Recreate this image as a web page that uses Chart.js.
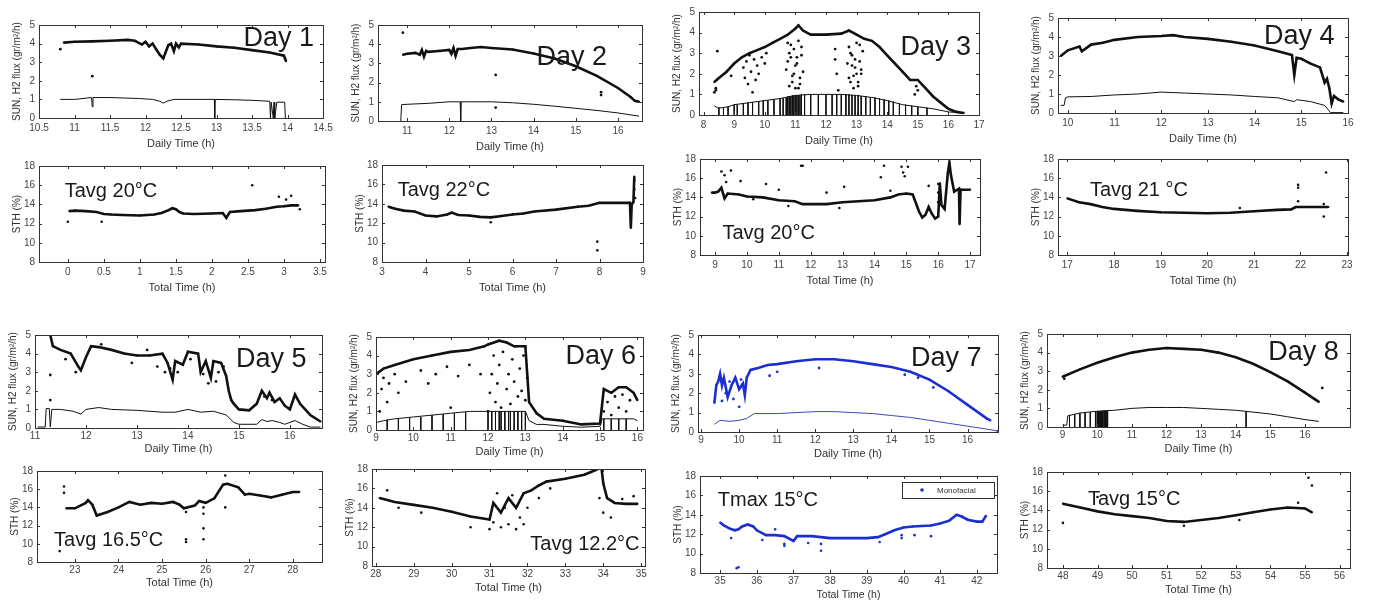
<!DOCTYPE html>
<html>
<head>
<meta charset="utf-8">
<script src="https://cdn.jsdelivr.net/npm/chart.js@4.4.1/dist/chart.umd.min.js"></script>
<style>
body { margin: 0; background: #fff; width: 1375px; height: 602px; position: relative; overflow: hidden; }
.p { position: absolute; }
</style>
</head>
<body>
<script>
// ---- Day 1 ----
const d1Time = [10.85, 11.0, 11.25, 11.5, 11.75, 11.85, 11.95, 12.0, 12.05, 12.1, 12.15, 12.2, 12.25, 12.28, 12.32, 12.36, 12.4, 12.43, 12.47, 12.5, 12.75, 13.0, 13.25, 13.5, 13.75, 13.95, 13.98]
const d1Sun = [4.05, 4.1, 4.12, 4.15, 4.2, 4.15, 3.95, 4.1, 3.85, 4.0, 3.7, 3.4, 3.2, 3.5, 3.9, 4.0, 3.6, 4.0, 3.8, 4.0, 3.95, 3.85, 3.78, 3.65, 3.52, 3.35, 3.05]
const d1OutT = [10.8, 11.25]
const d1OutV = [3.7, 2.25]
const d1H2T = [10.8, 11.0, 11.24, 11.25, 11.26, 11.5, 11.9, 12.1, 12.2, 12.25, 12.3, 12.4, 12.5, 12.97, 12.975, 12.98, 13.25, 13.5, 13.75, 13.76, 13.77, 13.8, 13.81, 13.82, 13.85, 13.96, 13.97, 13.98]
const d1H2 = [1.0, 1.0, 1.1, 0.6, 1.1, 1.1, 1.05, 1.0, 0.9, 0.8, 0.9, 1.0, 1.0, 1.0, 0.0, 1.0, 0.98, 0.95, 0.9, 0.0, 0.85, 0.0, 0.85, 0.0, 0.85, 0.85, 0.0, 0.0]
const d1StT = [0.02, 0.1, 0.25, 0.4, 0.5, 0.6, 0.75, 1.0, 1.2, 1.3, 1.4, 1.45, 1.5, 1.55, 1.6, 1.75, 2.0, 2.15, 2.2, 2.25, 2.4, 2.6, 2.75, 2.9, 3.0, 3.1, 3.2]
const d1Sth = [13.3, 13.35, 13.3, 13.2, 13.0, 12.95, 12.9, 12.85, 12.95, 13.1, 13.4, 13.6, 13.5, 13.2, 13.05, 13.0, 13.05, 13.1, 12.6, 13.2, 13.3, 13.4, 13.55, 13.75, 13.8, 13.9, 13.9]
const d1StOutT = [0.0, 0.47, 2.56, 2.93, 3.03, 3.1, 3.22]
const d1StOutV = [12.2, 12.2, 16.0, 14.8, 14.5, 14.9, 13.5]

// ---- Day 2 ----
const d2Time = [10.9, 11.0, 11.2, 11.3, 11.35, 11.4, 11.45, 11.5, 11.75, 12.0, 12.05, 12.1, 12.15, 12.2, 12.3, 12.5, 12.75, 13.0, 13.5, 14.0, 14.5, 15.0, 15.5, 16.0, 16.3, 16.4, 16.5]
const d2Sun = [3.45, 3.5, 3.55, 3.45, 3.7, 3.35, 3.65, 3.6, 3.65, 3.7, 3.5, 3.8, 3.4, 3.75, 3.75, 3.8, 3.85, 3.8, 3.72, 3.52, 3.25, 2.85, 2.35, 1.72, 1.25, 1.05, 1.0]
const d2OutT = [10.9, 13.1, 15.6, 15.6, 13.1]
const d2OutV = [4.6, 2.4, 1.5, 1.35, 0.7]
const d2H2T = [10.85, 10.87, 11.0, 11.5, 12.0, 12.26, 12.27, 12.28, 12.5, 13.0, 13.5, 14.0, 14.5, 15.0, 15.5, 16.0, 16.5]
const d2H2 = [0, 0.85, 0.87, 0.92, 1.0, 1.0, 0, 1.0, 1.0, 1.0, 0.95, 0.87, 0.77, 0.66, 0.55, 0.42, 0.25]
const d2StT = [3.15, 3.3, 3.5, 3.75, 4.0, 4.25, 4.5, 4.6, 4.75, 5.0, 5.25, 5.5, 5.75, 6.0, 6.25, 6.5, 7.0, 7.5, 7.75, 8.0, 8.5, 8.7, 8.72, 8.74, 8.78, 8.8]
const d2Sth = [13.7, 13.5, 13.3, 13.2, 12.8, 12.7, 12.9, 13.1, 12.85, 12.8, 12.65, 12.6, 12.75, 12.9, 13.0, 13.2, 13.4, 13.7, 13.8, 14.1, 14.1, 14.1, 11.5, 13.9, 14.2, 16.8]
const d2StOutT = [5.5, 7.95, 7.95, 8.8, 8.8, 8.82]
const d2StOutV = [12.1, 10.1, 9.2, 16.4, 15.5, 14.6]

// ---- Day 3 ----
const d3Time = [8.35, 8.5, 8.75, 9.0, 9.25, 9.5, 9.75, 10.0, 10.25, 10.5, 10.75, 11.0, 11.1, 11.25, 11.5, 12.0, 12.5, 12.75, 13.0, 13.25, 13.5, 13.75, 14.0, 14.25, 14.5, 14.75, 15.0, 15.25, 15.5, 15.75, 16.0, 16.25, 16.5]
const d3Sun = [1.6, 1.8, 2.1, 2.5, 2.8, 3.0, 3.15, 3.3, 3.5, 3.7, 3.9, 4.2, 4.35, 4.1, 3.9, 3.9, 3.95, 4.1, 3.9, 3.7, 3.6, 3.3, 2.9, 2.5, 2.1, 1.7, 1.7, 1.3, 0.9, 0.6, 0.3, 0.15, 0.1]
const d3OutT = [8.35, 8.4, 8.45, 8.9, 9.3, 9.35, 9.4, 9.45, 9.5, 9.55, 9.6, 9.65, 9.7, 9.75, 9.8, 9.9, 10.0, 10.05, 10.7, 10.75, 10.8, 10.85, 10.9, 10.95, 11.0, 11.05, 11.1, 11.15, 11.2, 11.25, 10.8, 10.9, 11.0, 11.1, 11.2, 10.75, 10.85, 10.95, 11.05, 11.15, 12.3, 12.3, 12.35, 12.4, 12.7, 12.75, 12.8, 12.85, 12.9, 12.95, 13.0, 13.05, 13.1, 13.15, 13.2, 12.75, 12.85, 12.95, 13.05, 13.15, 12.8, 12.9, 13.0, 13.1, 14.9, 14.95, 15.0, 8.4]
const d3OutV = [1.1, 1.3, 3.1, 1.9, 2.3, 1.8, 2.6, 1.5, 2.9, 2.1, 1.1, 2.7, 1.7, 2.4, 2.0, 2.8, 2.5, 3.0, 2.2, 3.5, 1.4, 2.8, 1.9, 3.2, 1.3, 2.5, 3.6, 1.8, 2.9, 2.1, 3.0, 1.6, 2.4, 1.3, 3.3, 2.6, 3.4, 2.0, 2.8, 1.5, 3.2, 2.7, 2.0, 1.2, 2.5, 3.3, 1.6, 2.9, 1.9, 2.3, 3.5, 1.4, 2.6, 2.0, 3.1, 1.8, 2.4, 2.7, 1.6, 2.2, 3.0, 1.3, 2.0, 3.4, 1.0, 1.4, 1.2, 1.2]
const d3H2T = [8.35, 8.45, 8.6, 8.8, 9.0, 9.5, 10.0, 10.5, 11.0, 11.5, 12.0, 12.5, 13.0, 13.5, 14.0, 14.5, 15.0, 15.5, 16.0, 16.5]
const d3H2 = [0.45, 0.35, 0.35, 0.4, 0.5, 0.6, 0.7, 0.8, 0.95, 1.0, 1.0, 1.0, 0.95, 0.85, 0.7, 0.5, 0.4, 0.3, 0.15, 0.1]
const d3DipT = [8.5, 8.65, 8.8, 9.0, 9.1, 9.3, 9.45, 9.6, 9.8, 9.95, 10.1, 10.3, 10.5, 10.6, 10.7, 10.75, 10.8, 10.85, 10.9, 10.95, 11.0, 11.05, 11.1, 11.15, 11.2, 11.3, 11.5, 11.75, 12.0, 12.2, 12.35, 12.5, 12.65, 12.75, 12.85, 12.95, 13.05, 13.15, 13.3, 13.45, 13.6, 13.75, 13.9, 14.05, 14.2, 14.4, 14.6, 14.8, 15.0, 15.3]
const d3DipTop = [0.35, 0.35, 0.4, 0.5, 0.5, 0.55, 0.6, 0.6, 0.65, 0.7, 0.7, 0.75, 0.8, 0.82, 0.85, 0.9, 0.9, 0.9, 0.95, 0.95, 0.95, 0.95, 0.97, 0.97, 1.0, 1.0, 1.0, 1.0, 1.0, 1.0, 1.0, 1.0, 1.0, 1.0, 0.97, 0.95, 0.95, 0.92, 0.9, 0.87, 0.85, 0.8, 0.75, 0.7, 0.65, 0.55, 0.5, 0.45, 0.4, 0.35]
const d3StT = [8.9, 9.0, 9.1, 9.2, 9.3, 9.4, 9.75, 10.0, 10.5, 11.0, 11.5, 11.75, 12.0, 12.5, 13.0, 13.5, 14.0, 14.5, 14.75, 15.0, 15.2, 15.4, 15.5, 15.6, 15.7, 15.8, 15.9, 16.0, 16.05, 16.1, 16.2, 16.3, 16.35, 16.4, 16.5, 16.65, 16.67, 16.7, 17.0]
const d3Sth = [14.5, 14.5, 14.6, 15.0, 13.9, 14.4, 14.3, 14.1, 14.0, 13.7, 13.6, 13.3, 13.3, 13.3, 13.5, 13.6, 13.7, 14.0, 14.3, 14.4, 14.3, 12.5, 11.9, 12.2, 13.0, 12.3, 11.8, 12.0, 15.5, 13.2, 12.8, 16.5, 17.6, 16.3, 14.6, 14.9, 11.2, 14.8, 14.8]
const d3StOutT = [9.2, 9.3, 9.35, 9.5, 9.8, 10.6, 11.0, 11.7, 11.75, 12.5, 13.05, 14.2, 14.3, 14.85, 14.9, 14.95, 15.05, 15.7, 16.0, 16.0, 16.0, 11.3, 12.9, 14.5, 10.2]
const d3StOutV = [16.7, 16.3, 15.6, 16.8, 15.7, 15.4, 14.8, 17.3, 17.3, 14.5, 15.1, 16.1, 17.3, 17.2, 16.6, 16.2, 17.2, 15.2, 14.5, 15.4, 13.5, 13.1, 12.9, 14.7, 13.8]

// ---- Day 4 ----
const d4Time = [9.85, 10.0, 10.25, 10.3, 10.5, 10.75, 11.0, 11.5, 12.0, 12.25, 12.5, 13.0, 13.5, 14.0, 14.5, 14.8, 14.85, 14.9, 15.0, 15.2, 15.4, 15.5, 15.55, 15.6, 15.65, 15.7, 15.8, 15.9]
const d4Sun = [3.0, 3.3, 3.5, 3.25, 3.6, 3.7, 3.85, 4.0, 4.05, 4.1, 4.0, 3.9, 3.75, 3.55, 3.25, 3.05, 2.0, 2.9, 2.85, 2.6, 2.4, 1.6, 1.8, 1.3, 0.5, 0.9, 0.7, 0.6]
const d4H2T = [9.85, 9.92, 9.95, 10.0, 10.5, 11.0, 11.5, 12.0, 12.5, 13.0, 13.5, 14.0, 14.5, 14.85, 14.9, 15.2, 15.5, 15.6, 15.62, 15.9]
const d4H2 = [0.4, 0.4, 0.8, 0.85, 0.87, 0.95, 1.0, 1.1, 1.05, 1.0, 0.95, 0.87, 0.8, 0.6, 0.7, 0.6, 0.4, 0.1, 0.02, 0.02]
const d4StT = [17.0, 17.25, 17.5, 17.75, 18.0, 18.5, 19.0, 19.5, 20.0, 20.5, 21.0, 21.5, 21.8, 21.9, 22.0, 22.3, 22.6]
const d4Sth = [13.9, 13.5, 13.3, 13.0, 12.8, 12.6, 12.45, 12.4, 12.35, 12.4, 12.55, 12.7, 12.75, 13.0, 13.0, 13.0, 13.0]
const d4StOutT = [21.95, 21.95, 21.95, 22.5, 22.55, 22.5, 20.7]
const d4StOutV = [15.3, 15.0, 13.6, 12.0, 16.6, 13.3, 12.9]

// ---- Day 5 ----
const d5Time = [11.3, 11.35, 11.5, 11.7, 11.85, 11.9, 12.0, 12.1, 12.25, 12.5, 12.75, 13.0, 13.25, 13.5, 13.6, 13.7, 13.75, 13.9, 14.0, 14.2, 14.25, 14.35, 14.45, 14.5, 14.65, 14.75, 14.8, 14.85, 14.9, 15.0, 15.2, 15.35, 15.45, 15.55, 15.6, 15.7, 15.8, 15.9, 16.0, 16.1, 16.2, 16.4, 16.6]
const d5Sun = [5.0, 4.4, 4.2, 4.0, 3.3, 3.1, 3.8, 4.4, 4.35, 4.2, 4.0, 3.9, 3.9, 4.0, 3.5, 2.6, 3.6, 3.4, 4.1, 4.0, 3.0, 3.6, 2.7, 3.6, 3.5, 2.8, 2.0, 1.5, 1.3, 1.0, 0.95, 1.3, 2.0, 1.6, 1.9, 1.4, 1.6, 1.2, 1.0, 1.8, 1.3, 0.7, 0.35]
const d5OutT = [11.3, 11.3, 11.6, 11.8, 12.3, 12.9, 13.2, 13.4, 13.55, 13.65, 13.8, 14.05, 14.3, 14.4, 14.55, 14.6, 14.7, 15.5, 15.65]
const d5OutV = [2.85, 1.5, 3.7, 3.0, 4.5, 3.5, 4.2, 3.3, 3.0, 3.2, 3.0, 3.7, 2.9, 2.4, 2.5, 3.0, 3.3, 1.7, 1.5]
const d5H2T = [11.05, 11.2, 11.22, 11.28, 11.3, 11.33, 11.5, 11.75, 11.9, 12.0, 12.25, 12.5, 13.0, 13.5, 13.75, 14.0, 14.25, 14.5, 14.75, 14.9, 15.0, 15.35, 15.45, 15.55, 15.65, 15.8, 15.9, 16.1, 16.25, 16.4, 16.6]
const d5H2 = [0.05, 0.05, 1.05, 1.05, 0.05, 1.0, 1.0, 0.9, 0.75, 1.0, 1.1, 1.0, 0.95, 0.85, 0.85, 1.0, 0.85, 0.9, 0.7, 0.3, 0.2, 0.2, 0.45, 0.35, 0.4, 0.3, 0.2, 0.4, 0.2, 0.05, 0.05]
const d5StT = [22.8, 23.0, 23.25, 23.3, 23.4, 23.5, 23.75, 24.0, 24.25, 24.5, 24.75, 25.0, 25.25, 25.4, 25.5, 25.75, 25.85, 26.0, 26.2, 26.4, 26.5, 26.75, 26.9, 27.0, 27.25, 27.5, 27.75, 28.0, 28.15]
const d5Sth = [13.9, 13.9, 14.5, 14.8, 14.3, 13.1, 13.5, 14.0, 14.6, 14.3, 14.5, 14.4, 14.6, 14.3, 13.9, 14.2, 14.7, 14.5, 15.0, 16.5, 16.6, 16.2, 15.4, 15.5, 15.3, 15.1, 15.4, 15.7, 15.7]
const d5StOutT = [22.65, 22.75, 22.75, 25.55, 25.55, 25.55, 25.95, 25.95, 25.95, 25.95, 26.45, 26.45]
const d5StOutV = [9.2, 16.3, 15.6, 10.2, 10.5, 13.5, 10.5, 11.7, 13.3, 14.0, 14.0, 17.5]

// ---- Day 6 ----
const d6Time = [9.0, 9.2, 9.5, 10.0, 10.5, 11.0, 11.5, 11.9, 12.0, 12.3, 12.5, 12.7, 13.0, 13.1, 13.3, 13.5, 14.0, 14.5, 15.0, 15.1, 15.3, 15.5, 15.7, 15.9, 16.0]
const d6Sun = [3.0, 3.3, 3.5, 3.8, 4.0, 4.2, 4.3, 4.5, 4.6, 4.8, 4.7, 4.5, 4.5, 1.5, 0.9, 0.6, 0.5, 0.3, 0.35, 2.2, 2.0, 2.3, 2.3, 2.0, 1.6]
const d6OutT = [9.1, 9.15, 9.2, 9.3, 9.35, 9.5, 9.6, 9.8, 10.2, 10.4, 10.6, 10.9, 11.0, 11.2, 11.5, 11.8, 12.0, 12.05, 12.1, 12.15, 12.2, 12.25, 12.3, 12.35, 12.4, 12.5, 12.55, 12.6, 12.65, 12.7, 12.75, 12.8, 12.85, 12.9, 12.95, 13.0, 13.05, 15.1, 15.2, 15.3, 15.4, 15.5, 15.6, 15.7, 15.8]
const d6OutV = [1.0, 2.2, 2.8, 1.5, 2.5, 3.0, 2.0, 2.6, 3.2, 2.5, 3.0, 3.4, 1.2, 2.9, 3.5, 3.0, 1.0, 2.0, 3.0, 4.0, 1.5, 2.5, 3.5, 1.2, 4.2, 2.2, 3.0, 1.4, 3.8, 2.6, 4.5, 1.8, 3.3, 2.1, 4.0, 1.6, 2.8, 1.0, 1.5, 0.8, 1.8, 1.2, 1.9, 1.0, 1.6]
const d6H2T = [9.0, 9.2, 9.5, 10.0, 10.5, 11.0, 11.5, 12.0, 12.5, 13.0, 13.1, 13.3, 13.5, 14.0, 14.5, 15.0, 15.05, 15.5, 15.9, 16.0]
const d6H2 = [0.4, 0.5, 0.6, 0.7, 0.8, 0.9, 1.0, 1.0, 1.0, 1.0, 0.5, 0.3, 0.3, 0.2, 0.15, 0.2, 0.6, 0.6, 0.6, 0.5]
const d6DipT = [9.3, 9.6, 9.9, 10.2, 10.5, 10.8, 11.1, 11.4, 12.0, 12.1, 12.2, 12.3, 12.35, 12.45, 12.55, 12.6, 12.7, 12.8, 12.9, 13.0, 15.1, 15.3, 15.5, 15.7]
const d6DipTop = [0.55, 0.6, 0.65, 0.7, 0.8, 0.85, 0.9, 0.95, 1.0, 1.0, 1.0, 1.0, 1.0, 1.0, 1.0, 1.0, 1.0, 1.0, 1.0, 1.0, 0.6, 0.6, 0.6, 0.6]
const d6StT = [28.1, 28.5, 29.0, 29.5, 30.0, 30.5, 31.0, 31.1, 31.3, 31.5, 31.7, 31.9, 32.1, 32.3, 32.5, 33.0, 33.5, 33.8, 33.95, 34.0, 34.1, 34.3, 34.6, 34.9]
const d6Sth = [15.0, 14.6, 14.3, 14.0, 13.6, 13.1, 12.8, 14.5, 13.5, 15.0, 14.0, 15.5, 15.8, 16.3, 16.7, 17.0, 17.4, 17.9, 18.2, 16.5, 15.0, 14.5, 14.4, 14.4]
const d6StOutT = [28.3, 28.6, 29.2, 30.5, 31.0, 31.1, 31.2, 31.3, 31.4, 31.5, 31.6, 31.7, 31.8, 31.9, 32.0, 32.3, 32.6, 33.9, 34.0, 34.2, 34.5, 34.8]
const d6StOutV = [15.8, 14.0, 13.5, 12.0, 11.8, 12.5, 15.5, 12.0, 14.0, 12.3, 15.3, 11.8, 13.0, 12.3, 14.0, 15.0, 16.0, 15.0, 13.5, 13.0, 14.9, 15.2]

// ---- Day 7 ----
const d7Time = [9.35, 9.4, 9.45, 9.5, 9.55, 9.6, 9.7, 9.8, 9.9, 10.0, 10.1, 10.15, 10.2, 10.3, 10.5, 10.75, 11.0, 11.5, 12.0, 12.5, 13.0, 13.5, 14.0, 14.5, 15.0, 15.5, 16.0, 16.5, 16.6]
const d7Sun = [1.5, 2.4, 2.6, 3.0, 2.4, 2.8, 1.8, 2.4, 2.8, 2.2, 2.5, 1.9, 2.8, 3.2, 3.3, 3.45, 3.5, 3.65, 3.75, 3.75, 3.65, 3.5, 3.35, 3.1, 2.7, 2.1, 1.4, 0.7, 0.6]
const d7OutT = [9.55, 9.65, 9.75, 9.85, 10.0, 10.05, 10.8, 11.0, 12.1, 14.35, 14.7, 15.1, 16.8]
const d7OutV = [1.6, 2.0, 2.6, 1.7, 1.3, 2.7, 2.9, 3.1, 3.3, 2.95, 2.8, 2.3, 0.05]
const d7H2T = [9.35, 9.5, 9.75, 10.0, 10.2, 10.4, 11.0, 11.5, 12.0, 12.5, 13.0, 13.5, 14.0, 14.5, 15.0, 15.5, 16.0, 16.5, 16.8]
const d7H2 = [0.4, 0.6, 0.55, 0.6, 0.7, 0.95, 0.95, 1.0, 1.05, 1.05, 1.0, 0.95, 0.85, 0.75, 0.6, 0.45, 0.3, 0.15, 0.05]
const d7StT = [35.0, 35.1, 35.25, 35.4, 35.5, 35.6, 35.75, 35.9, 36.0, 36.25, 36.5, 36.75, 37.0, 37.1, 37.5, 38.0, 38.5, 39.0, 39.3, 39.5, 39.75, 40.0, 40.25, 40.5, 40.75, 41.0, 41.25, 41.45, 41.6, 41.75, 42.0, 42.15, 42.25]
const d7Sth = [13.2, 12.9, 12.6, 12.4, 12.5, 12.8, 13.0, 12.8, 12.4, 11.9, 11.9, 11.8, 11.3, 11.8, 11.8, 11.6, 11.6, 11.6, 11.7, 12.0, 12.4, 12.7, 12.8, 12.85, 12.9, 13.1, 13.4, 14.0, 13.8, 13.5, 13.3, 13.3, 13.9]
const d7StOutT = [35.3, 35.45, 35.5, 36.15, 36.5, 36.75, 36.75, 37.4, 37.75, 37.75, 39.35, 39.95, 39.95, 40.3, 40.75]
const d7StOutV = [11.6, 8.5, 8.6, 11.4, 12.5, 10.8, 11.0, 11.1, 10.3, 11.0, 11.2, 11.9, 11.6, 11.9, 11.8]

// ---- Day 8 ----
const d8Time = [9.0, 9.5, 10.0, 10.5, 11.0, 11.5, 12.0, 12.5, 13.0, 13.5, 14.0, 14.5, 15.0, 15.5, 16.0, 16.4]
const d8Sun = [2.7, 3.1, 3.45, 3.75, 4.0, 4.15, 4.25, 4.2, 4.15, 4.0, 3.75, 3.4, 2.95, 2.45, 1.85, 1.35]
const d8OutT = [16.5, 9.05]
const d8OutV = [2.1, 2.6]
const d8H2T = [9.0, 9.12, 9.15, 9.5, 10.0, 10.5, 11.0, 11.5, 12.0, 12.5, 13.0, 13.5, 14.0, 14.5, 15.0, 15.5, 16.0, 16.4]
const d8H2 = [0.1, 0.1, 0.6, 0.75, 0.85, 0.9, 1.0, 1.05, 1.05, 1.05, 1.0, 0.95, 0.9, 0.8, 0.7, 0.55, 0.4, 0.3]
const d8DipT = [9.2, 9.35, 9.5, 9.65, 9.8, 9.95, 10.0, 10.03, 10.06, 10.1, 10.13, 10.16, 10.2, 10.23, 10.26, 10.3, 14.3]
const d8DipTop = [0.65, 0.7, 0.75, 0.78, 0.8, 0.85, 0.85, 0.85, 0.85, 0.85, 0.85, 0.87, 0.87, 0.87, 0.87, 0.88, 0.85]
const d8StT = [48.0, 48.5, 49.0, 49.5, 50.0, 50.5, 51.0, 51.5, 52.0, 52.5, 53.0, 53.5, 54.0, 54.5, 55.0, 55.2]
const d8Sth = [14.7, 14.3, 13.9, 13.6, 13.4, 13.2, 12.9, 12.8, 13.0, 13.2, 13.5, 13.8, 14.1, 14.3, 14.2, 13.8]
const d8StOutT = [49.0, 53.1, 54.8, 55.1, 55.2, 48.0, 51.5]
const d8StOutV = [15.4, 13.0, 14.8, 17.4, 16.6, 12.7, 12.4]

// tick labels
const fluxTicks = [0, 1, 2, 3, 4, 5]
const sthTicks = [8, 10, 12, 14, 16, 18]

const FONT = '"Liberation Sans", Arial, sans-serif'
const BLACK = '#111'
const BLUE = '#1b2fcf'
const BLUE2 = '#3a49bb'
const SUN_TITLE = 'SUN, H2 flux (gr/m²/h)'
const STH_TITLE = 'STH (%)'
const AX_W = 28, PAD_T = 8, PAD_R = 14

Chart.defaults.font.family = FONT
Chart.defaults.animation = false

const pts = (xs, ys) => xs.map((x, i) => ({ x, y: ys[i] }))
const dipPts = (xs, tops) => {
  const out = []
  xs.forEach((x, i) => out.push({ x, y: tops[i] }, { x, y: 0 }, { x, y: null }))
  return out
}
const line = (data, color, w, r) => ({
  data, showLine: true, borderColor: color, backgroundColor: color, borderWidth: w,
  pointRadius: r, pointBorderWidth: 0, pointBackgroundColor: color, tension: 0, spanGaps: false
})
const dots = (data, color, r) => ({
  data, showLine: false, pointRadius: r, pointBorderWidth: 0, pointBackgroundColor: color, backgroundColor: color
})
const range = (a, b, s) => { const r = []; for (let v = a; v <= b + 1e-9; v += s) r.push(Math.round(v * 10) / 10); return r }

const framePlugin = {
  id: 'frame',
  afterDraw(chart, args, o) {
    const { ctx, chartArea: a, scales: { x, y } } = chart
    ctx.save()
    ctx.strokeStyle = '#333'
    ctx.lineWidth = 1
    ctx.strokeRect(Math.round(a.left) + 0.5, Math.round(a.top) + 0.5, Math.round(a.width), Math.round(a.height))
    ctx.beginPath()
    x.ticks.forEach(t => {
      const px = Math.round(x.getPixelForValue(t.value)) + 0.5
      ctx.moveTo(px, a.bottom); ctx.lineTo(px, a.bottom - 3)
      ctx.moveTo(px, a.top); ctx.lineTo(px, a.top + 3)
    })
    y.ticks.forEach(t => {
      const py = Math.round(y.getPixelForValue(t.value)) + 0.5
      ctx.moveTo(a.left, py); ctx.lineTo(a.left + 3, py)
      ctx.moveTo(a.right, py); ctx.lineTo(a.right - 3, py)
    })
    ctx.stroke()
    if (o.text) {
      ctx.font = `${o.size}px ${FONT}`
      ctx.fillStyle = '#1a1a1a'
      ctx.textBaseline = 'alphabetic'
      ctx.fillText(o.text, a.left + o.fx * a.width, a.top + o.fy * a.height)
    }
    if (o.legend) {
      const lw = 92, lh = 16
      const lx = a.right - 3 - lw, ly = a.top + 6
      ctx.fillStyle = '#fff'
      ctx.fillRect(lx, ly, lw, lh)
      ctx.strokeStyle = '#333'
      ctx.strokeRect(lx + 0.5, ly + 0.5, lw, lh)
      ctx.fillStyle = o.legend.color
      ctx.beginPath(); ctx.arc(lx + 20, ly + lh / 2, 1.8, 0, Math.PI * 2); ctx.fill()
      ctx.fillStyle = '#333'
      ctx.font = `8px ${FONT}`
      ctx.textBaseline = 'middle'
      ctx.fillText(o.legend.text, lx + 35, ly + lh / 2 + 0.5)
    }
    ctx.restore()
  }
}

function panel(p) {
  const [l, t, w, h] = p.box
  const axH = p.axH || 34
  const wrap = document.createElement('div')
  wrap.className = 'p'
  wrap.style.left = (l - AX_W) + 'px'
  wrap.style.top = (t - PAD_T) + 'px'
  wrap.style.width = (w + AX_W + PAD_R) + 'px'
  wrap.style.height = (h + PAD_T + axH) + 'px'
  const cv = document.createElement('canvas')
  wrap.appendChild(cv)
  document.body.appendChild(wrap)
  const tickStyle = { font: { size: 10 }, color: '#444', autoSkip: false, maxRotation: 0, callback: v => String(v) }
  new Chart(cv, {
    type: 'scatter',
    data: { datasets: p.sets },
    options: {
      responsive: true,
      maintainAspectRatio: false,
      layout: { padding: { top: PAD_T, right: PAD_R, left: 0, bottom: 0 } },
      plugins: { legend: { display: false }, tooltip: { enabled: false }, frame: p.note },
      scales: {
        x: {
          type: 'linear', min: p.x[0], max: p.x[1],
          afterBuildTicks: s => { s.ticks = p.xt.map(v => ({ value: v })) },
          afterFit: s => { s.height = axH },
          grid: { display: false, drawTicks: false }, border: { display: false },
          ticks: { ...tickStyle, padding: axH < 32 ? 2 : 4 },
          title: { display: true, text: p.xTitle, font: { size: axH < 29 ? 10.5 : 11 }, color: '#333', padding: { top: 0, bottom: axH < 29 ? 0 : 1 } }
        },
        y: {
          type: 'linear', min: p.y[0], max: p.y[1],
          afterBuildTicks: s => { s.ticks = p.yt.map(v => ({ value: v })) },
          afterFit: s => { s.width = AX_W },
          grid: { display: false, drawTicks: false }, border: { display: false },
          ticks: { ...tickStyle, padding: 4 },
          title: { display: true, text: p.yTitle, font: { size: 10 }, color: '#333', padding: { top: 0, bottom: 0 } }
        }
      }
    },
    plugins: [framePlugin]
  })
}

const fluxSets = (tm, sun, outT, outV, h2t, h2, dipT, dipTop, c1, c2) => {
  const s = [
    line(pts(h2t, h2), c2, 1, 0),
    line(pts(tm, sun), c1, 2.6, 1.1),
    dots(pts(outT, outV), c1, 1.4)
  ]
  if (dipT) s.push(line(dipPts(dipT, dipTop), c2, 1, 0))
  return s
}
const sthSets = (tm, v, outT, outV, c) => [line(pts(tm, v), c, 2.6, 1.1), dots(pts(outT, outV), c, 1.3)]

const dayNote = (n, fx, fy) => ({ text: 'Day ' + n, fx, fy, size: 27 })
const tNote = (text, fx, fy) => ({ text, fx, fy, size: 20 })

const panels = [
  { box: [39, 23, 284, 95], x: [10.5, 14.5], xt: range(10.5, 14.5, 0.5), y: [0, 5], yt: fluxTicks, xTitle: 'Daily Time (h)', yTitle: SUN_TITLE,
    sets: fluxSets(d1Time, d1Sun, d1OutT, d1OutV, d1H2T, d1H2, null, null, BLACK, BLACK), note: dayNote(1, 0.72, 0.23) },
  { box: [39, 164, 286, 98], x: [-0.4, 3.57], xt: range(0, 3.5, 0.5), y: [8, 18], yt: sthTicks, xTitle: 'Total Time (h)', yTitle: STH_TITLE,
    sets: sthSets(d1StT, d1Sth, d1StOutT, d1StOutV, BLACK), note: tNote('Tavg 20°C', 0.09, 0.32) },
  { box: [378, 23, 264, 98], x: [10.31, 16.57], xt: range(11, 16, 1), y: [0, 5], yt: fluxTicks, xTitle: 'Daily Time (h)', yTitle: SUN_TITLE,
    sets: fluxSets(d2Time, d2Sun, d2OutT, d2OutV, d2H2T, d2H2, null, null, BLACK, BLACK), note: dayNote(2, 0.6, 0.42) },
  { box: [382, 163, 261, 99], x: [3, 9], xt: range(3, 9, 1), y: [8, 18], yt: sthTicks, xTitle: 'Total Time (h)', yTitle: STH_TITLE,
    sets: sthSets(d2StT, d2Sth, d2StOutT, d2StOutV, BLACK), note: tNote('Tavg 22°C', 0.06, 0.32) },
  { box: [699, 10, 280, 105], x: [7.85, 17], xt: range(8, 17, 1), y: [0, 5], yt: fluxTicks, xTitle: 'Daily Time (h)', yTitle: SUN_TITLE,
    sets: fluxSets(d3Time, d3Sun, d3OutT, d3OutV, d3H2T, d3H2, d3DipT, d3DipTop, BLACK, BLACK), note: dayNote(3, 0.72, 0.42) },
  { box: [700, 157, 280, 98], x: [8.53, 17.31], xt: range(9, 17, 1), y: [8, 18], yt: sthTicks, xTitle: 'Total Time (h)', yTitle: STH_TITLE,
    sets: sthSets(d3StT, d3Sth, d3StOutT, d3StOutV, BLACK), note: tNote('Tavg 20°C', 0.08, 0.83) },
  { box: [1058, 16, 290, 97], x: [9.79, 16], xt: range(10, 16, 1), y: [0, 5], yt: fluxTicks, xTitle: 'Daily Time (h)', yTitle: SUN_TITLE,
    sets: fluxSets(d4Time, d4Sun, [], [], d4H2T, d4H2, null, null, BLACK, BLACK), note: dayNote(4, 0.71, 0.27) },
  { box: [1058, 157, 290, 98], x: [16.8, 23.02], xt: range(17, 23, 1), y: [8, 18], yt: sthTicks, xTitle: 'Total Time (h)', yTitle: STH_TITLE,
    sets: sthSets(d4StT, d4Sth, d4StOutT, d4StOutV, BLACK), note: tNote('Tavg 21 °C', 0.11, 0.39) },
  { box: [35, 333, 287, 95], x: [11, 16.63], xt: range(11, 16, 1), y: [0, 5], yt: fluxTicks, xTitle: 'Daily Time (h)', yTitle: SUN_TITLE, axH: 29,
    sets: fluxSets(d5Time, d5Sun, d5OutT, d5OutV, d5H2T, d5H2, null, null, BLACK, BLACK), note: dayNote(5, 0.7, 0.34) },
  { box: [37, 469, 285, 93], x: [22.13, 28.67], xt: range(23, 28, 1), y: [8, 18], yt: sthTicks, xTitle: 'Total Time (h)', yTitle: STH_TITLE, axH: 29,
    sets: sthSets(d5StT, d5Sth, d5StOutT, d5StOutV, BLACK), note: tNote('Tavg 16.5°C', 0.06, 0.82) },
  { box: [376, 335, 267, 95], x: [9, 16.15], xt: range(9, 16, 1), y: [0, 5], yt: fluxTicks, xTitle: 'Daily Time (h)', yTitle: SUN_TITLE, axH: 30,
    sets: fluxSets(d6Time, d6Sun, d6OutT, d6OutV, d6H2T, d6H2, d6DipT, d6DipTop, BLACK, BLACK), note: dayNote(6, 0.71, 0.29) },
  { box: [372, 467, 273, 99], x: [27.9, 35.1], xt: range(28, 35, 1), y: [8, 18], yt: sthTicks, xTitle: 'Total Time (h)', yTitle: STH_TITLE, axH: 30,
    sets: sthSets(d6StT, d6Sth, d6StOutT, d6StOutV, BLACK), note: tNote('Tavg 12.2°C', 0.58, 0.83) },
  { box: [698, 333, 300, 99], x: [8.92, 16.8], xt: range(9, 16, 1), y: [0, 5], yt: fluxTicks, xTitle: 'Daily Time (h)', yTitle: SUN_TITLE, axH: 30,
    sets: fluxSets(d7Time, d7Sun, d7OutT, d7OutV, d7H2T, d7H2, null, null, BLUE, BLUE2), note: dayNote(7, 0.71, 0.32) },
  { box: [700, 474, 297, 99], x: [34.45, 42.55], xt: range(35, 42, 1), y: [8, 18], yt: sthTicks, xTitle: 'Total Time (h)', yTitle: STH_TITLE, axH: 28,
    sets: sthSets(d7StT, d7Sth, d7StOutT, d7StOutV, BLUE), note: { ...tNote('Tmax 15°C', 0.06, 0.31), legend: { text: 'Monofacial', color: BLUE } } },
  { box: [1047, 332, 303, 95], x: [8.55, 17.3], xt: range(9, 16, 1), y: [0, 5], yt: fluxTicks, xTitle: 'Daily Time (h)', yTitle: SUN_TITLE, axH: 30,
    sets: fluxSets(d8Time, d8Sun, d8OutT, d8OutV, d8H2T, d8H2, d8DipT, d8DipTop, BLACK, BLACK), note: dayNote(8, 0.73, 0.28) },
  { box: [1047, 470, 303, 98], x: [47.54, 56.3], xt: range(48, 56, 1), y: [8, 18], yt: sthTicks, xTitle: 'Total Time (h)', yTitle: STH_TITLE, axH: 30,
    sets: sthSets(d8StT, d8Sth, d8StOutT, d8StOutV, BLACK), note: tNote('Tavg 15°C', 0.135, 0.34) }
]

panels.forEach(panel)
</script>
</body>
</html>
